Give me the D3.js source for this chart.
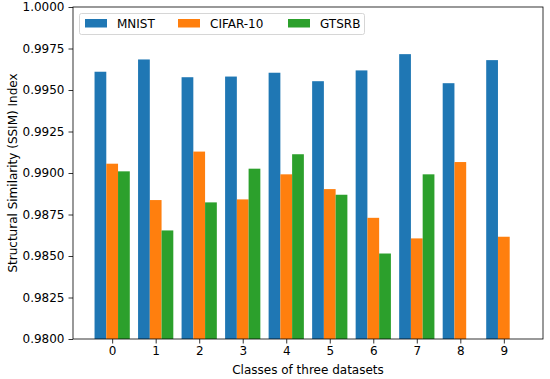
<!DOCTYPE html>
<html>
<head>
<meta charset="utf-8">
<script src="https://cdn.jsdelivr.net/npm/d3@7"></script>
<style>
body{margin:0;background:#fff;}
svg{display:block;font-family:"DejaVu Sans",sans-serif;}
</style>
</head>
<body>
<svg id="c" width="550" height="379"></svg>
<script>
const categories = ["0","1","2","3","4","5","6","7","8","9"];
const seriesNames = ["MNIST","CIFAR-10","GTSRB"];
const mnist = [0.99610,0.99684,0.99577,0.99581,0.99604,0.99553,0.99618,0.99716,0.99541,0.99680];
const cifar = [0.99056,0.98837,0.99129,0.98841,0.98992,0.98903,0.98730,0.98606,0.99066,0.98616];
const gtsrb = [0.99010,0.98654,0.98823,0.99026,0.99113,0.98869,0.98515,0.98992,null,null];
const yTicks = [0.9800,0.9825,0.9850,0.9875,0.9900,0.9925,0.9950,0.9975,1.0000];
const colors = ["#1f77b4","#ff7f0e","#2ca02c"];

const svg = d3.select("#c");
const L = 73, R = 543, T = 7, B = 339;
const w = 0.27;
const FS = "12px";
const x = d3.scaleLinear().domain([-0.9, 9.9]).range([L, R]);
const y = d3.scaleLinear().domain([0.98, 1.0]).range([B, T]);
const series = [mnist, cifar, gtsrb];

const g = svg.append("g");
series.forEach((vals, si) => {
  g.selectAll(null).data(vals.map((v,i)=>({v,i}))
    .filter(d => d.v !== null))
    .enter().append("rect")
    .attr("x", d => x(d.i + (si-1)*w - w/2))
    .attr("width", d => x(w) - x(0))
    .attr("y", d => y(d.v))
    .attr("height", d => B - y(d.v))
    .attr("fill", colors[si]);
});

// axes
const xAxis = d3.axisBottom(x).tickValues(categories.map((c,i)=>i))
  .tickFormat((d,i)=>categories[i]).tickSize(4.5).tickPadding(3);
const yAxis = d3.axisLeft(y).tickValues(yTicks)
  .tickFormat(d3.format(".4f")).tickSize(4.5).tickPadding(4);
const gx = svg.append("g").attr("transform",`translate(0,${B})`).call(xAxis);
const gy = svg.append("g").attr("transform",`translate(${L},0)`).call(yAxis);
[gx,gy].forEach(a=>{
  a.select(".domain").remove();
  a.selectAll("text").attr("font-size",FS).attr("fill","#000").attr("font-family","DejaVu Sans");
  a.selectAll("line").attr("stroke","#000").attr("stroke-width",0.8);
});
// frame
svg.append("rect").attr("x",L).attr("y",T).attr("width",R-L).attr("height",B-T)
  .attr("fill","none").attr("stroke","#000").attr("stroke-width",0.8);

// labels
svg.append("text").attr("x",(L+R)/2).attr("y",374).attr("text-anchor","middle")
  .attr("font-size",FS).text("Classes of three datasets");
svg.append("text").attr("transform",`translate(16.5,${(T+B)/2}) rotate(-90)`)
  .attr("text-anchor","middle").attr("font-size",FS)
  .text("Structural Similarity (SSIM) Index");

// legend
const lg = svg.append("g");
lg.append("rect").attr("x",79.5).attr("y",13.5).attr("width",285).attr("height",21)
  .attr("rx",2).attr("fill","#fff").attr("fill-opacity",0.8)
  .attr("stroke","#ccc").attr("stroke-width",0.8);
const lx = [85, 178, 288];
seriesNames.forEach((n,i)=>{
  lg.append("rect").attr("x",lx[i]).attr("y",19).attr("width",22).attr("height",8.5)
    .attr("fill",colors[i]);
  lg.append("text").attr("x",lx[i]+32).attr("y",28).attr("font-size",FS).text(n);
});
</script>
</body>
</html>
